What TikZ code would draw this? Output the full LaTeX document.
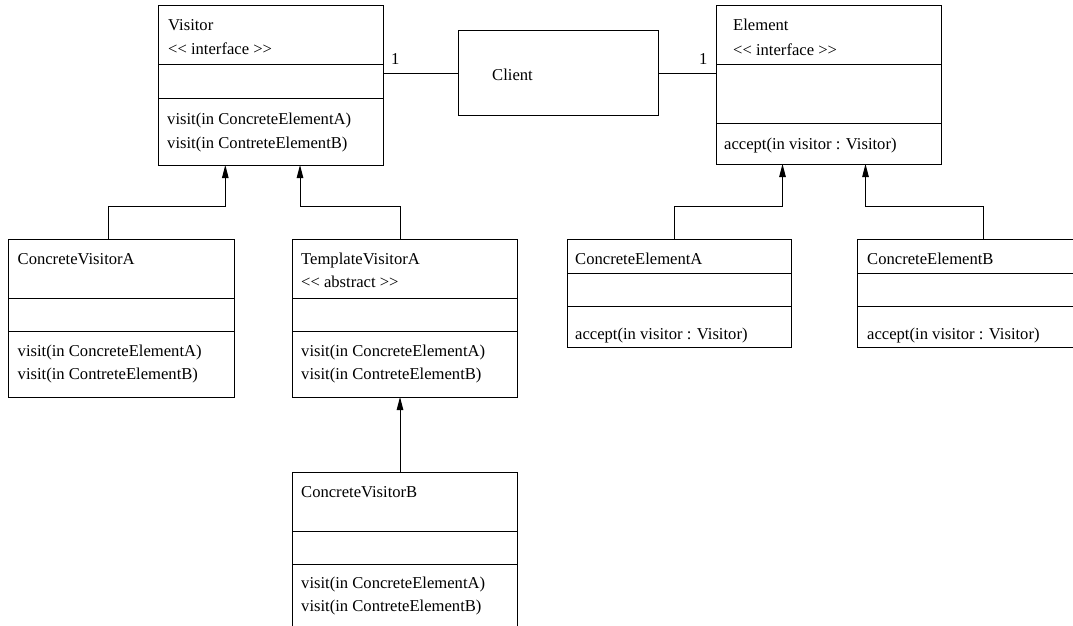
\documentclass[tikz,border=0pt]{standalone}
\usepackage{fontspec}
\setmainfont{Liberation Serif}
\usetikzlibrary{arrows.meta,calc}
\newcommand{\ltlt}{<\kern0pt<}
\newcommand{\gtgt}{>\kern0pt>}
\tikzset{
  box/.style={draw, line width=1pt, rectangle, anchor=north west, inner sep=0pt, outer sep=0pt},
  lbl/.style={anchor=west, inner sep=0pt, text height=11.5pt, text depth=3.5pt, font=\fontsize{16.6}{20}\selectfont},
  sep/.style={line width=1pt},
  conn/.style={line width=1pt},
  inh/.style={conn, -{Triangle[length=13pt,width=6.5pt]}},
}
\begin{document}
\begin{tikzpicture}[x=1pt,y=-1pt]
\useasboundingbox (0,0) rectangle (1073,626);
\clip (0,0) rectangle (1073,626);
\fill[white] (0,0) rectangle (1073,626);

% Visitor
\node[box, minimum width=225pt, minimum height=159pt] (visitor) at (158,6) {};
\draw[sep] (158,65) -- (383,65);
\draw[sep] (158,98) -- (383,98);
\node[lbl] (visitorT) at (168,27) {Visitor};
\node[lbl] (visitorS) at (168,51) {\ltlt{} interface \gtgt};
\node[lbl] (visitorM1) at (167,120) {visit(in ConcreteElementA)};
\node[lbl] (visitorM2) at (167,144) {visit(in ContreteElementB)};

% Client
\node[box, minimum width=200pt, minimum height=84pt] (client) at (458,31) {};
\node[lbl] (clientT) at (492,77) {Client};

% Element
\node[box, minimum width=225pt, minimum height=158pt] (element) at (716,6) {};
\draw[sep] (716,65) -- (941,65);
\draw[sep] (716,123) -- (941,123);
\node[lbl] (elementT) at (733,27) {Element};
\node[lbl] (elementS) at (733,52) {\ltlt{} interface \gtgt};
\node[lbl] (elementM) at (724,145) {accept(in visitor : Visitor)};

% ConcreteVisitorA
\node[box, minimum width=226pt, minimum height=158pt] (cva) at (8,239) {};
\draw[sep] (8,298) -- (234,298);
\draw[sep] (8,331) -- (234,331);
\node[lbl] (cvaT) at (17.5,260) {ConcreteVisitorA};
\node[lbl] (cvaM1) at (17.5,352) {visit(in ConcreteElementA)};
\node[lbl] (cvaM2) at (17.5,375.5) {visit(in ContreteElementB)};

% TemplateVisitorA
\node[box, minimum width=225pt, minimum height=158pt] (tva) at (292,239) {};
\draw[sep] (292,298) -- (517,298);
\draw[sep] (292,331) -- (517,331);
\node[lbl] (tvaT) at (301,260) {TemplateVisitorA};
\node[lbl] (tvaS) at (301,283) {\ltlt{} abstract \gtgt};
\node[lbl] (tvaM1) at (301,352) {visit(in ConcreteElementA)};
\node[lbl] (tvaM2) at (301,375.5) {visit(in ContreteElementB)};

% ConcreteVisitorB
\node[box, minimum width=225pt, minimum height=200pt] (cvb) at (292,472) {};
\draw[sep] (292,531) -- (517,531);
\draw[sep] (292,564) -- (517,564);
\node[lbl] (cvbT) at (301,493) {ConcreteVisitorB};
\node[lbl] (cvbM1) at (301,584) {visit(in ConcreteElementA)};
\node[lbl] (cvbM2) at (301,607.5) {visit(in ContreteElementB)};

% ConcreteElementA
\node[box, minimum width=224pt, minimum height=108pt] (cea) at (567,239) {};
\draw[sep] (567,273) -- (791,273);
\draw[sep] (567,306) -- (791,306);
\node[lbl] (ceaT) at (575,260) {ConcreteElementA};
\node[lbl] (ceaM) at (575,335) {accept(in visitor : Visitor)};

% ConcreteElementB
\node[box, minimum width=224pt, minimum height=108pt] (ceb) at (857,239) {};
\draw[sep] (857,273) -- (1081,273);
\draw[sep] (857,306) -- (1081,306);
\node[lbl] (cebT) at (867,260) {ConcreteElementB};
\node[lbl] (cebM) at (867,335) {accept(in visitor : Visitor)};

% associations
\draw[conn] (client.west) -- (client.west -| visitor.east);
\draw[conn] (client.east) -- (client.east -| element.west);
\node[lbl] (one1) at (391,61) {1};
\node[lbl] (one2) at (699,61) {1};

% inheritance
\draw[inh] ($(cva.north west)+(100,0)$) -- ++(0,-33) -| ($(visitor.south west)+(67.3,0)$);
\draw[inh] ($(tva.north west)+(108.5,0)$) -- ++(0,-33) -| ($(visitor.south west)+(142,0)$);
\draw[inh] ($(cvb.north west)+(108,0)$) -- ($(tva.south west)+(108,0)$);
\draw[inh] ($(cea.north west)+(107.5,0)$) -- ++(0,-33) -| ($(element.south west)+(66.5,0)$);
\draw[inh] ($(ceb.north west)+(126,0)$) -- ++(0,-33) -| ($(element.south west)+(149.5,0)$);
\end{tikzpicture}
\end{document}
